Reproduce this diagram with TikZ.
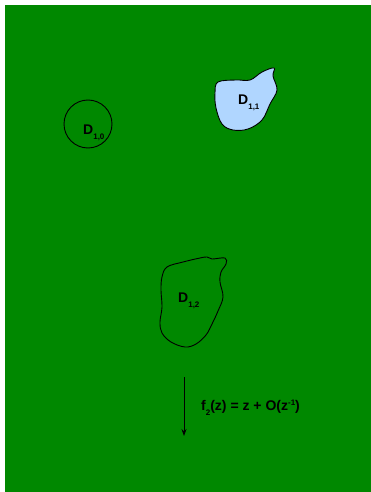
\documentclass[tikz,border=0pt]{standalone}
\usepackage{fontspec}
\setmainfont{Liberation Sans}
\usetikzlibrary{arrows.meta}
\definecolor{bg}{RGB}{0,136,0}
\definecolor{lblue}{RGB}{176,214,255}
\newcommand{\Dlab}[1]{{\fontsize{14}{14}\selectfont\bfseries D}\raisebox{-5pt}{\fontsize{8}{8}\selectfont\bfseries #1}}
\begin{document}
\begin{tikzpicture}[x=1pt,y=-1pt,
  region/.style={draw=black,line width=0.9pt},
  lab/.style={inner sep=0pt,anchor=base west}]
\useasboundingbox (0,0) rectangle (371,492);
\fill[bg] (5,5) rectangle (371,492);
% D_{1,0}
\draw[region] (88,124) circle (24);
\node[lab] (d10) at (83,135) {\Dlab{1,0}};
% D_{1,1}
\draw[region,fill=lblue] plot[smooth cycle,tension=0.6] coordinates {
 (218,82) (236,80) (250,80) (262,72) (274,68) (273,76) (277,90) (270,104) (262,120)
 (248,129) (233,130) (222,124) (216,108) (215,93)};
\node[lab] (d11) at (238,105) {\Dlab{1,1}};
% D_{1,2}
\draw[region] plot[smooth cycle,tension=0.6] coordinates {
 (167,267) (183,262) (200,258) (207,257) (212,259) (225,258) (226,264) (221,272)
 (220,282) (223,297) (218,311) (212,324) (206,335) (196,344) (185,347) (171,342)
 (162,333) (160,322) (162,307) (161,290) (162,277)};
\node[lab] (d12) at (178,302) {\Dlab{1,2}};
% map arrow
\coordinate (a1) at (184,377);
\coordinate (a2) at (184,436);
\draw[line width=0.8pt,-{Stealth[length=7pt,width=5pt]}] (a1) -- (a2);
\node[lab] (f) at (201,410) {\fontsize{14}{14}\selectfont\bfseries f\raisebox{-5pt}{\fontsize{8}{8}\selectfont 2}(z) = z + O(z\raisebox{5pt}{\fontsize{8}{8}\selectfont -1})};
\end{tikzpicture}
\end{document}
